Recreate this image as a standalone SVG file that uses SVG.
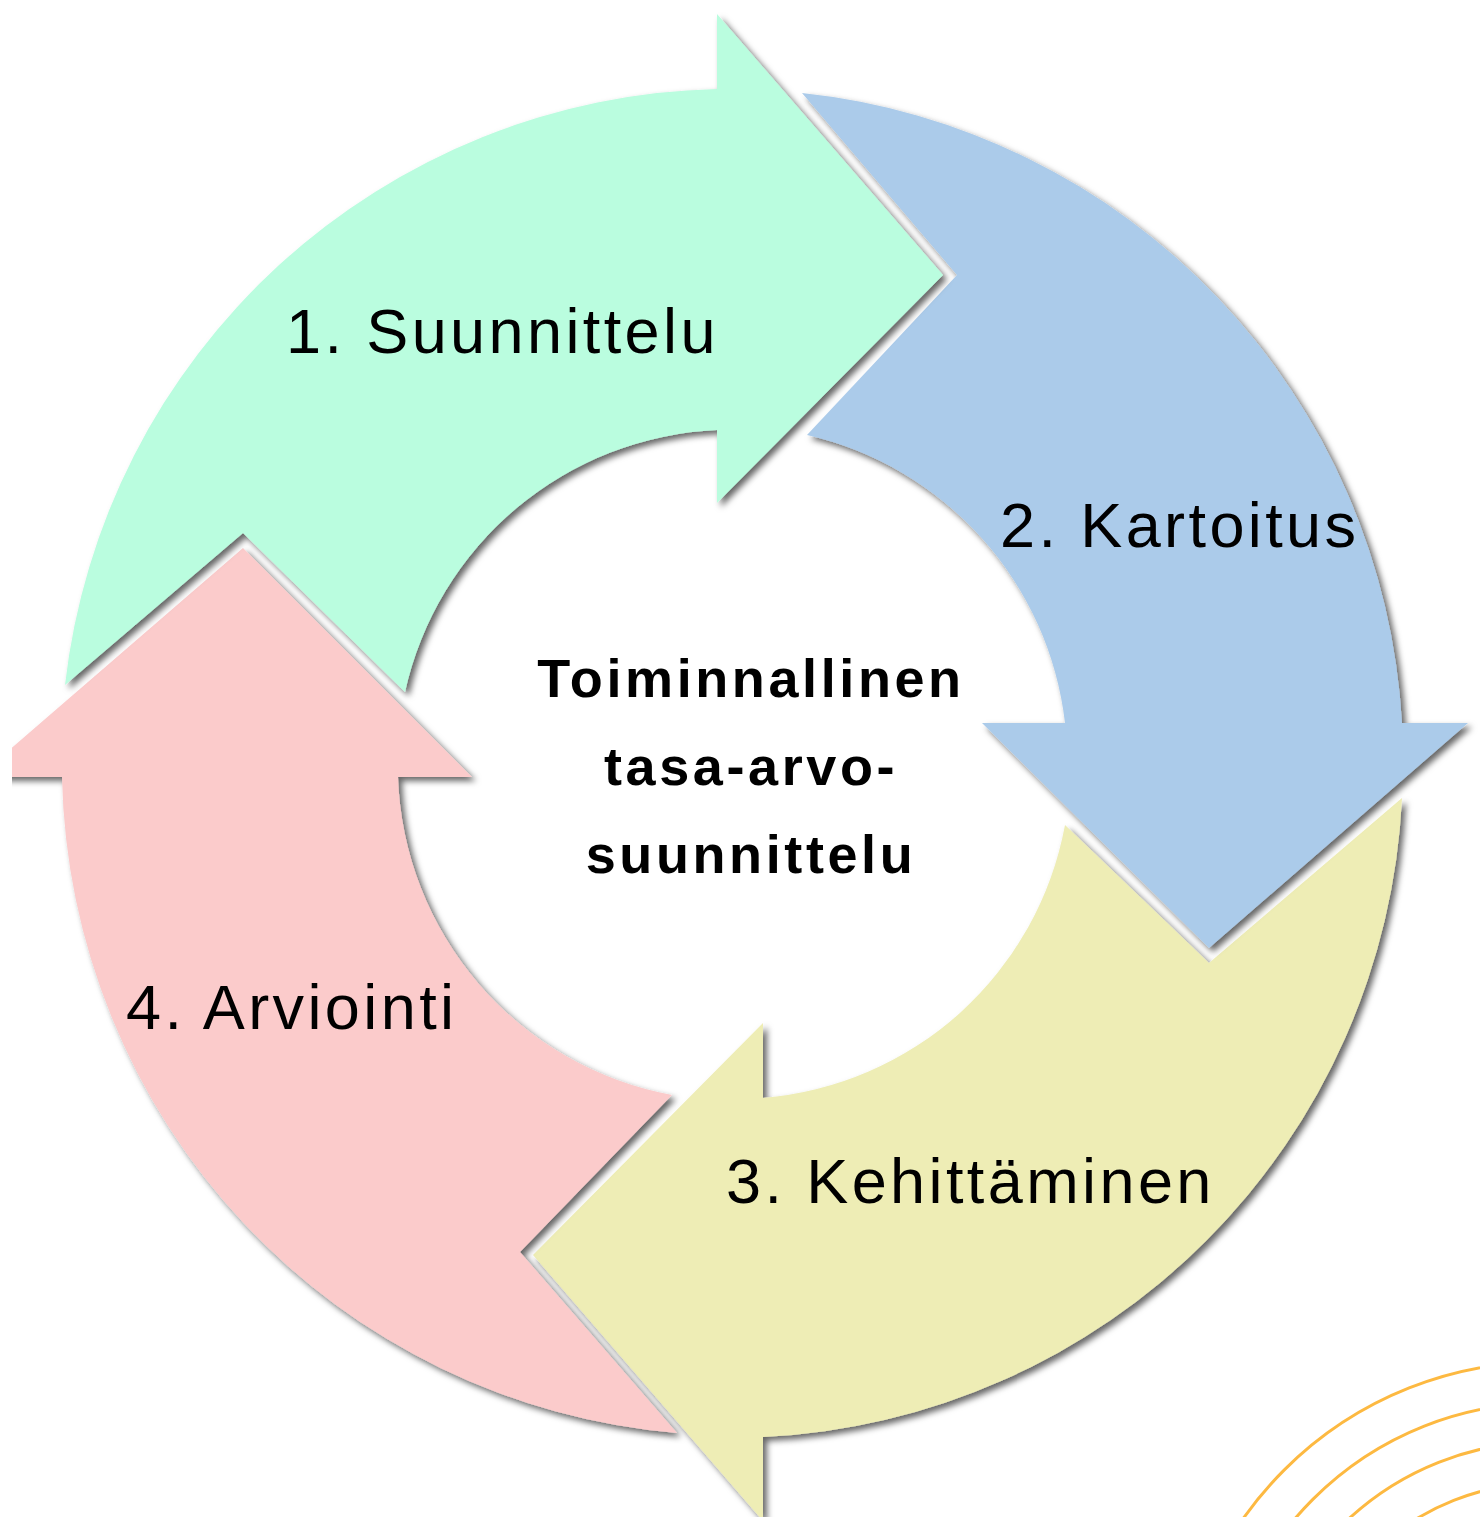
<svg xmlns="http://www.w3.org/2000/svg" width="1480" height="1517" viewBox="0 0 1480 1517">
<style>
.lbl{font-family:"Liberation Sans",Arial,sans-serif;font-size:63px;letter-spacing:3.4px;fill:#000}
.ctr{font-family:"Liberation Sans",Arial,sans-serif;font-size:54px;font-weight:bold;letter-spacing:3.6px;fill:#000;text-anchor:middle}
.arc{fill:none;stroke:#FDB941;stroke-width:3}
</style>
<defs>
<filter id="sh" x="-10%" y="-10%" width="120%" height="120%">
<feDropShadow dx="4" dy="4" stdDeviation="3" flood-color="#000" flood-opacity="0.6"/>
</filter>
<clipPath id="clip"><rect x="12" y="0" width="1468" height="1517"/></clipPath>
</defs>
<rect width="1480" height="1517" fill="#fff"/>
<g id="decor">
<circle class="arc" cx="1545" cy="1731" r="369"/>
<circle class="arc" cx="1545" cy="1731" r="328"/>
<circle class="arc" cx="1545" cy="1731" r="289"/>
<circle class="arc" cx="1545" cy="1731" r="248"/>
</g>
<g clip-path="url(#clip)">
<g id="n3">
<path filter="url(#sh)" fill="#EEEDB5" d="M 1402 798 A 672 672 0 0 1 763 1437 L 763 1521 L 533 1255 L 763 1023 L 763 1098 A 335 335 0 0 0 1065 825 L 1209 963 Z"/>
<text class="lbl" x="726" y="1203">3. Kehittäminen</text>
</g>
<g id="n4">
<path filter="url(#sh)" fill="#FBCBCB" d="M 677 1433 A 672 672 0 0 1 62 777 L -22 777 L 243 548 L 472 777 L 398 777 A 335 335 0 0 0 672 1095 L 520 1252 Z"/>
<text class="lbl" x="126" y="1029">4. Arviointi</text>
</g>
<g id="n2">
<path filter="url(#sh)" fill="#ABCBEA" d="M 802 93 A 672 672 0 0 1 1402 723 L 1468 723 L 1209 948 L 982 723 L 1065 723 A 335 335 0 0 0 807 435 L 957 275 Z"/>
<text class="lbl" x="1000" y="547">2. Kartoitus</text>
</g>
<g id="n1">
<path filter="url(#sh)" fill="#BAFDDF" d="M 65 685 A 672 672 0 0 1 717 89 L 717 14 L 943 275 L 717 503 L 717 430 A 335 335 0 0 0 405 692 L 243 533 Z"/>
<text class="lbl" x="286" y="353">1. Suunnittelu</text>
</g>
</g>
<g id="center">
<text class="ctr" x="751" y="697">Toiminnallinen</text>
<text class="ctr" x="751" y="785">tasa-arvo-</text>
<text class="ctr" x="751" y="873">suunnittelu</text>
</g>
<g id="connectors"/>
</svg>
